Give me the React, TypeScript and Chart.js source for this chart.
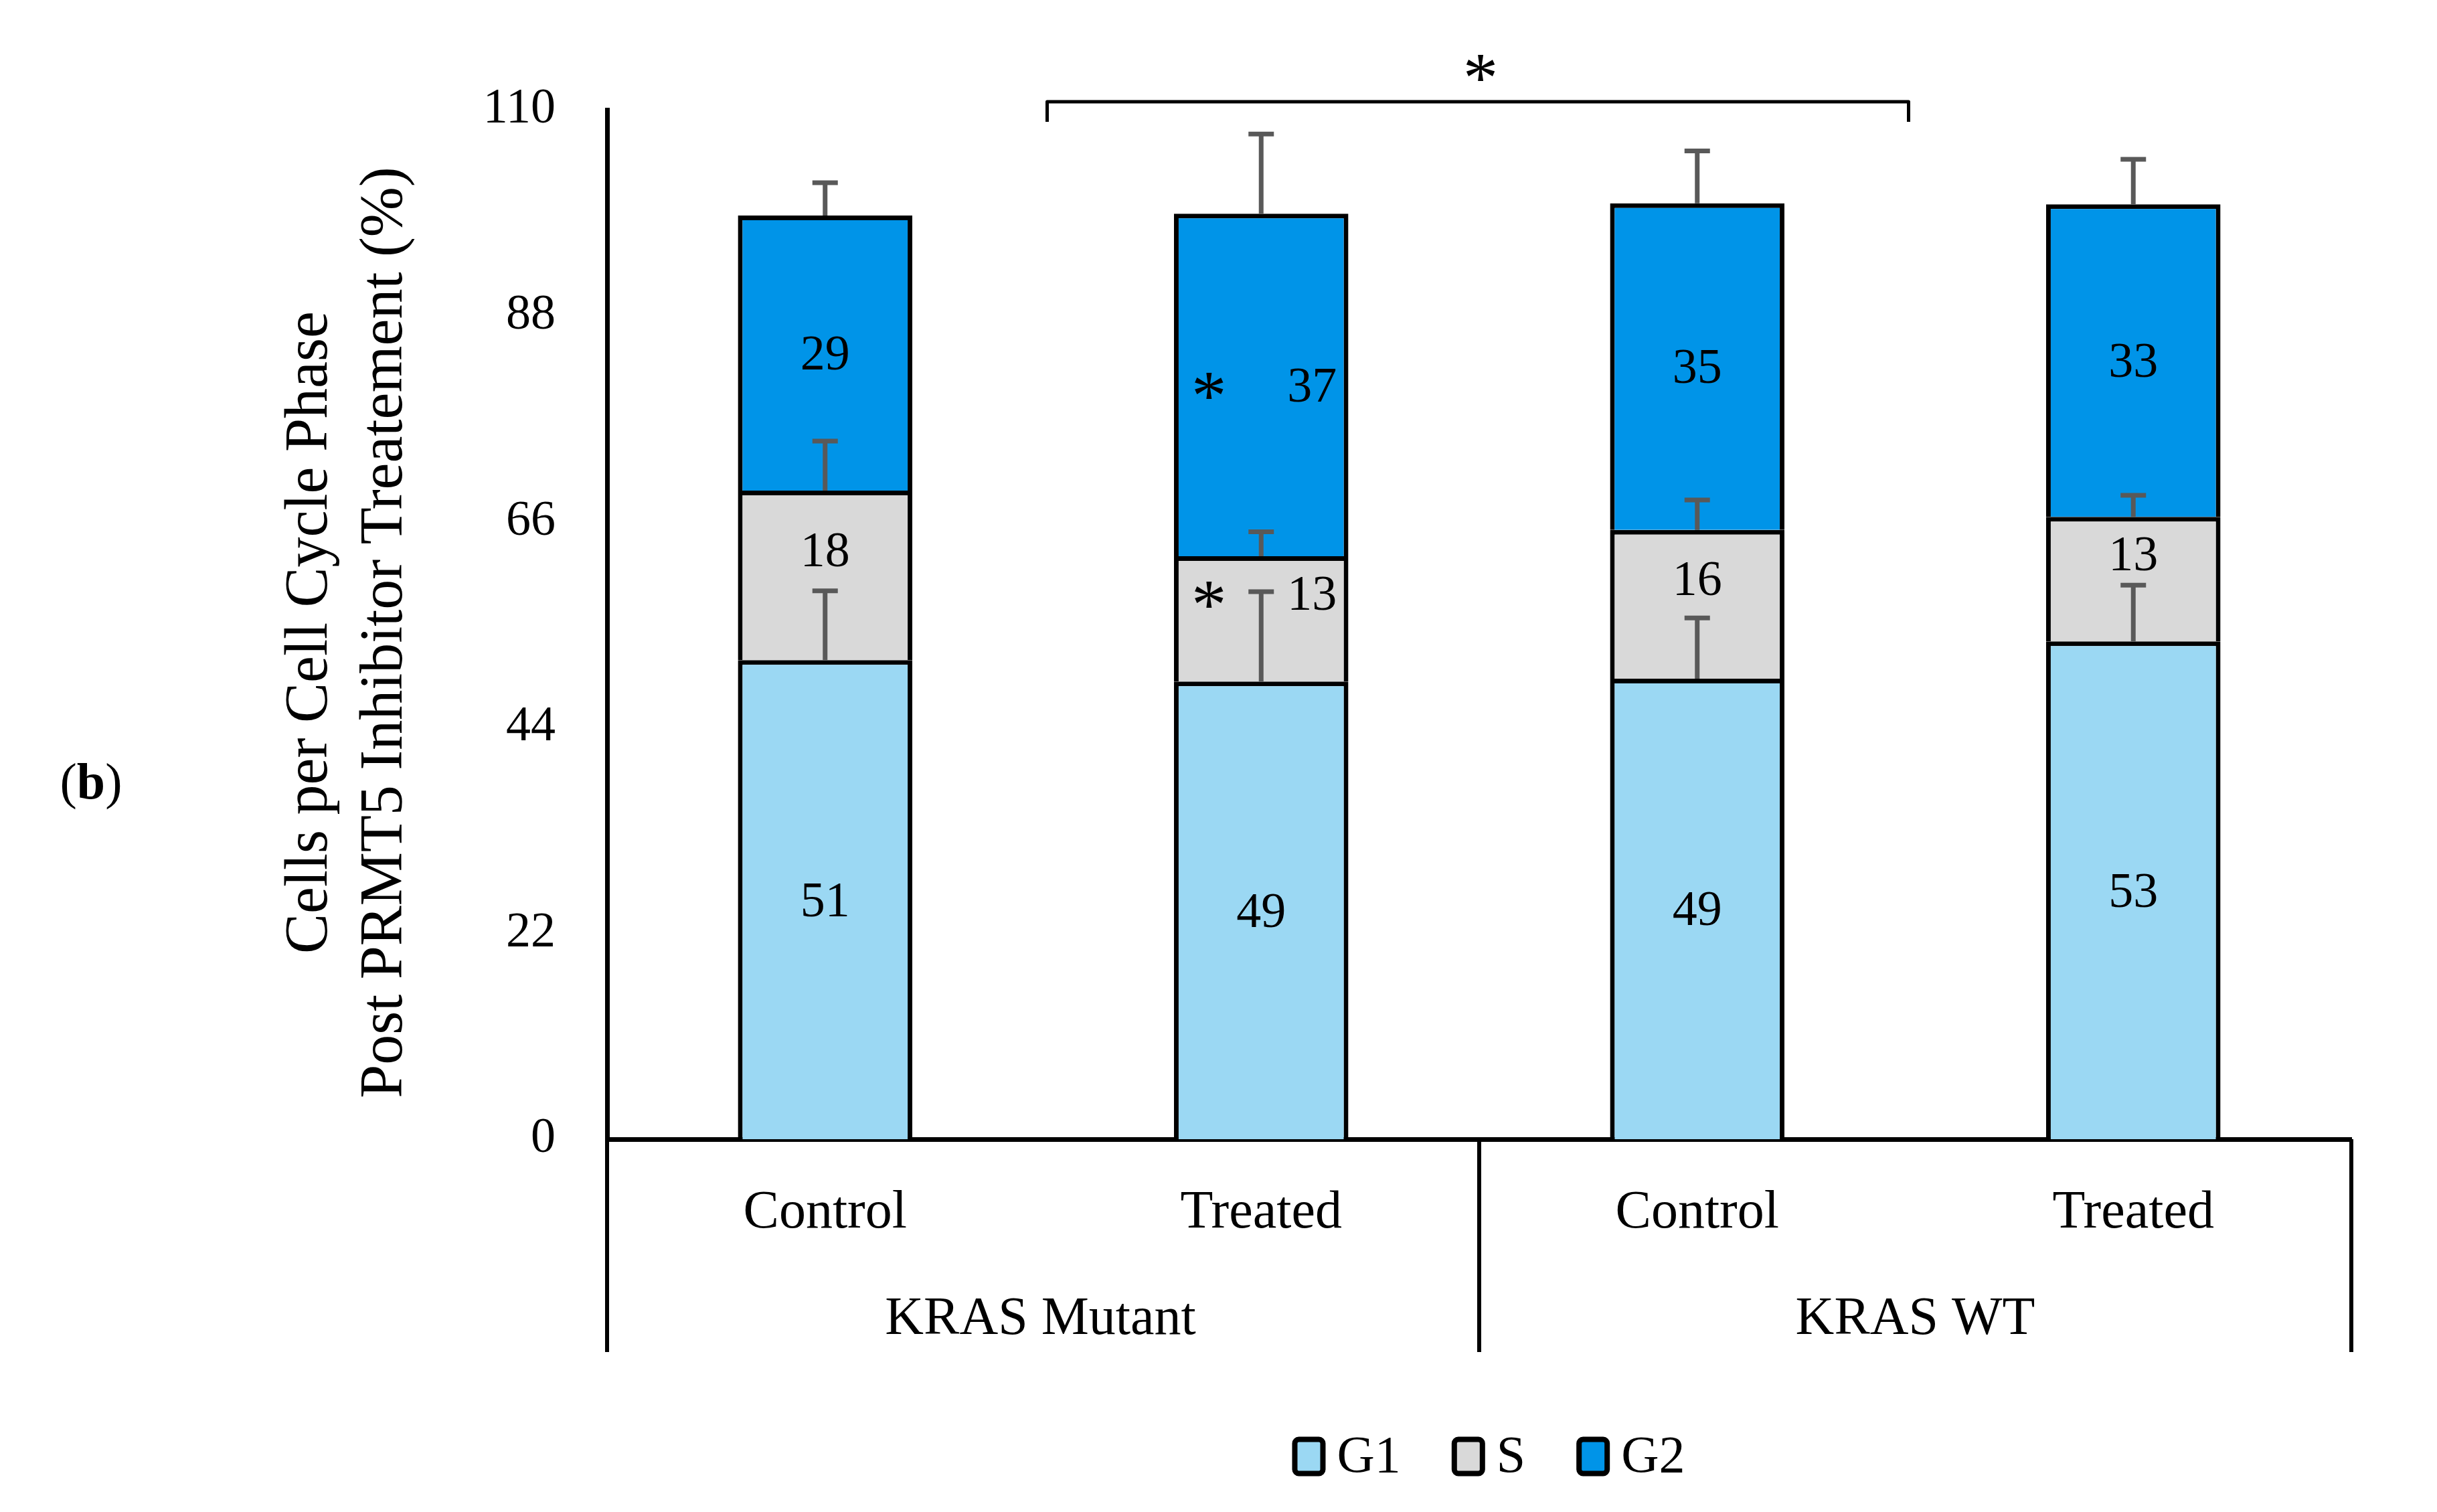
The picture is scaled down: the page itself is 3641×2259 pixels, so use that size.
import React, { useEffect, useRef } from 'react';
import { Chart, registerables } from 'chart.js';

Chart.register(...registerables);

const categories = ['Control', 'Treated', 'Control', 'Treated'];
const groups = ['KRAS Mutant', 'KRAS WT'];
const seriesNames = ['G1', 'S', 'G2'];
const seriesColors = ['#9BD8F3', '#D9D9D9', '#0094E8'];
const g1Values = [51.2, 48.9, 49.2, 53.2];
const sValues = [18.1, 13.4, 15.9, 13.3];
const g2Values = [29.4, 36.6, 34.9, 33.4];
const g1Errors = [7.4, 9.6, 6.5, 6.0];
const sErrors = [5.3, 2.6, 3.2, 2.3];
const g2Errors = [3.5, 8.5, 5.6, 4.8];
const sSignificant = [false, true, false, false];
const g2Significant = [false, true, false, false];
const yTicks = [0, 22, 44, 66, 88, 110];
const yTitleLines = ['Cells per Cell Cycle Phase', 'Post PRMT5 Inhibitor Treatement (%)'];
const panelLetter = 'b';
const groupStar = '*';

const W = 3641;
const H = 2259;
const FONT = "'Liberation Serif', 'Times New Roman', serif";

const overlay = {
  id: 'overlay',
  afterDatasetsDraw(chart: any) {
    const ctx = chart.ctx as CanvasRenderingContext2D;
    const xs = chart.scales.x;
    const ys = chart.scales.y;
    const area = chart.chartArea;
    const errs = [g1Errors, sErrors, g2Errors];
    const sig = [null, sSignificant, g2Significant];
    const datasets = chart.data.datasets;

    // error bars (upper only)
    ctx.save();
    ctx.strokeStyle = '#595959';
    ctx.lineWidth = 7;
    datasets.forEach((ds: any, i: number) => {
      const meta = chart.getDatasetMeta(i);
      meta.data.forEach((el: any, j: number) => {
        let cum = 0;
        for (let k = 0; k <= i; k++) cum += datasets[k].data[j];
        const yTop = ys.getPixelForValue(cum);
        const yE = ys.getPixelForValue(cum + errs[i][j]);
        ctx.beginPath();
        ctx.moveTo(el.x, yTop);
        ctx.lineTo(el.x, yE);
        ctx.moveTo(el.x - 19, yE);
        ctx.lineTo(el.x + 19, yE);
        ctx.stroke();
      });
    });
    ctx.restore();

    // data labels
    ctx.save();
    ctx.fillStyle = '#000';
    ctx.textAlign = 'center';
    datasets.forEach((ds: any, i: number) => {
      const meta = chart.getDatasetMeta(i);
      meta.data.forEach((el: any, j: number) => {
        let yc = (el.y + el.base) / 2 + 5;
        if (i === 1) yc -= 38;
        const label = String(Math.round(ds.data[j]));
        const s = sig[i] && sig[i]![j];
        let xl = el.x;
        if (s) {
          xl = el.x + 76;
          ctx.font = `105px ${FONT}`;
          ctx.textBaseline = 'alphabetic';
          ctx.fillText('*', el.x - 78, yc + 47);
        }
        ctx.font = `74px ${FONT}`;
        ctx.textBaseline = 'middle';
        ctx.fillText(label, xl, yc);
      });
    });
    ctx.restore();

    // significance bracket
    const g1c = (xs.getPixelForValue(0) + xs.getPixelForValue(1)) / 2;
    const g2c = (xs.getPixelForValue(2) + xs.getPixelForValue(3)) / 2;
    ctx.save();
    ctx.strokeStyle = '#000';
    ctx.lineWidth = 5;
    ctx.lineJoin = 'round';
    const by = area.top - 12;
    ctx.beginPath();
    ctx.moveTo(g1c + 6, by + 30);
    ctx.lineTo(g1c + 6, by);
    ctx.lineTo(g2c - 10, by);
    ctx.lineTo(g2c - 10, by + 30);
    ctx.stroke();
    ctx.fillStyle = '#000';
    ctx.textAlign = 'center';
    ctx.textBaseline = 'alphabetic';
    ctx.font = `105px ${FONT}`;
    ctx.fillText(groupStar, (g1c + g2c) / 2 + 2, area.top - 64 + 52);
    ctx.restore();

    // group separators and group labels
    ctx.save();
    ctx.strokeStyle = '#000';
    ctx.lineWidth = 6;
    const mid = (xs.getPixelForValue(1) + xs.getPixelForValue(2)) / 2;
    const sepBottom = area.bottom + 318;
    [area.left, mid, area.right].forEach((px: number) => {
      ctx.beginPath();
      ctx.moveTo(px, area.bottom);
      ctx.lineTo(px, sepBottom);
      ctx.stroke();
    });
    ctx.fillStyle = '#000';
    ctx.font = `80px ${FONT}`;
    ctx.textAlign = 'center';
    ctx.textBaseline = 'middle';
    ctx.fillText(groups[0], g1c - 4, area.bottom + 270);
    ctx.fillText(groups[1], g2c, area.bottom + 270);
    ctx.restore();

    // legend
    ctx.save();
    ctx.font = `78px ${FONT}`;
    const boxW = 42, boxH = 51, gapBox = 21, gapItem = 80;
    const widths = seriesNames.map((n) => ctx.measureText(n).width);
    let total = 0;
    widths.forEach((w, i) => {
      total += boxW + gapBox + w + (i < widths.length - 1 ? gapItem : 0);
    });
    let lx = (area.left + area.right) / 2 + 16 - total / 2;
    const ly = area.bottom + 474;
    seriesNames.forEach((n, i) => {
      ctx.beginPath();
      if ((ctx as any).roundRect) (ctx as any).roundRect(lx, ly - boxH / 2, boxW, boxH, 6);
      else ctx.rect(lx, ly - boxH / 2, boxW, boxH);
      ctx.fillStyle = seriesColors[i];
      ctx.fill();
      ctx.lineWidth = 8;
      ctx.strokeStyle = '#000';
      ctx.stroke();
      ctx.fillStyle = '#000';
      ctx.textAlign = 'left';
      ctx.textBaseline = 'middle';
      ctx.fillText(n, lx + boxW + gapBox, ly + 3);
      lx += boxW + gapBox + widths[i] + gapItem;
    });
    ctx.restore();

    // y-axis title
    ctx.save();
    ctx.fillStyle = '#000';
    ctx.font = `90px ${FONT}`;
    ctx.textAlign = 'center';
    ctx.textBaseline = 'middle';
    const tcy = (area.top + area.bottom) / 2 + 12;
    [464, 576].forEach((tx, i) => {
      ctx.save();
      ctx.translate(tx, tcy);
      ctx.rotate(-Math.PI / 2);
      ctx.fillText(yTitleLines[i], 0, 0);
      ctx.restore();
    });
    ctx.restore();

    // panel label "(b)"
    ctx.save();
    ctx.fillStyle = '#000';
    ctx.textBaseline = 'middle';
    ctx.textAlign = 'left';
    ctx.font = `76px ${FONT}`;
    const p1 = ctx.measureText('(').width;
    ctx.font = `bold 76px ${FONT}`;
    const pb = ctx.measureText(panelLetter).width;
    ctx.font = `76px ${FONT}`;
    const p2 = ctx.measureText(')').width;
    let px = 136 - (p1 + pb + p2) / 2;
    const py = 1173;
    ctx.fillText('(', px, py);
    px += p1;
    ctx.font = `bold 76px ${FONT}`;
    ctx.fillText(panelLetter, px, py);
    px += pb;
    ctx.font = `76px ${FONT}`;
    ctx.fillText(')', px, py);
    ctx.restore();
  },
};

export default function App() {
  const ref = useRef<HTMLCanvasElement | null>(null);
  useEffect(() => {
    if (!ref.current) return;
    Chart.defaults.font.family = FONT;
    const valueSets = [g1Values, sValues, g2Values];
    const chart = new Chart(ref.current, {
      type: 'bar',
      data: {
        labels: categories,
        datasets: seriesNames.map((n, i) => ({
          label: n,
          data: valueSets[i],
          backgroundColor: seriesColors[i],
          borderColor: '#000',
          borderWidth: 7,
          borderSkipped: 'start',
          categoryPercentage: 1,
          barPercentage: 0.4,
        })),
      },
      options: {
        responsive: false,
        animation: false,
        devicePixelRatio: 1,
        layout: { padding: { left: 0, top: 164, right: 128, bottom: 0 } },
        plugins: {
          legend: { display: false },
          tooltip: { enabled: false },
          title: { display: false },
        },
        scales: {
          x: {
            stacked: true,
            offset: true,
            grid: { display: false, drawTicks: false },
            border: { display: true, color: '#000', width: 7 },
            ticks: { color: '#000', font: { size: 80, family: FONT }, padding: 63 },
            afterFit: (s: any) => {
              s.height = 557;
            },
          },
          y: {
            stacked: true,
            min: 0,
            max: 110,
            grid: { display: false, drawTicks: false },
            border: { display: true, color: '#000', width: 7 },
            ticks: { color: '#000', font: { size: 74, family: FONT }, padding: 77 },
            afterBuildTicks: (s: any) => {
              s.ticks = yTicks.map((v) => ({ value: v }));
            },
            afterFit: (s: any) => {
              s.width = 907;
            },
          },
        },
      },
      plugins: [overlay],
    } as any);
    return () => chart.destroy();
  }, []);
  return (
    <div style={{ position: 'absolute', left: 0, top: 0, width: W, height: H, background: '#fff' }}>
      <canvas ref={ref} width={W} height={H} style={{ display: 'block', width: W, height: H }} />
    </div>
  );
}
